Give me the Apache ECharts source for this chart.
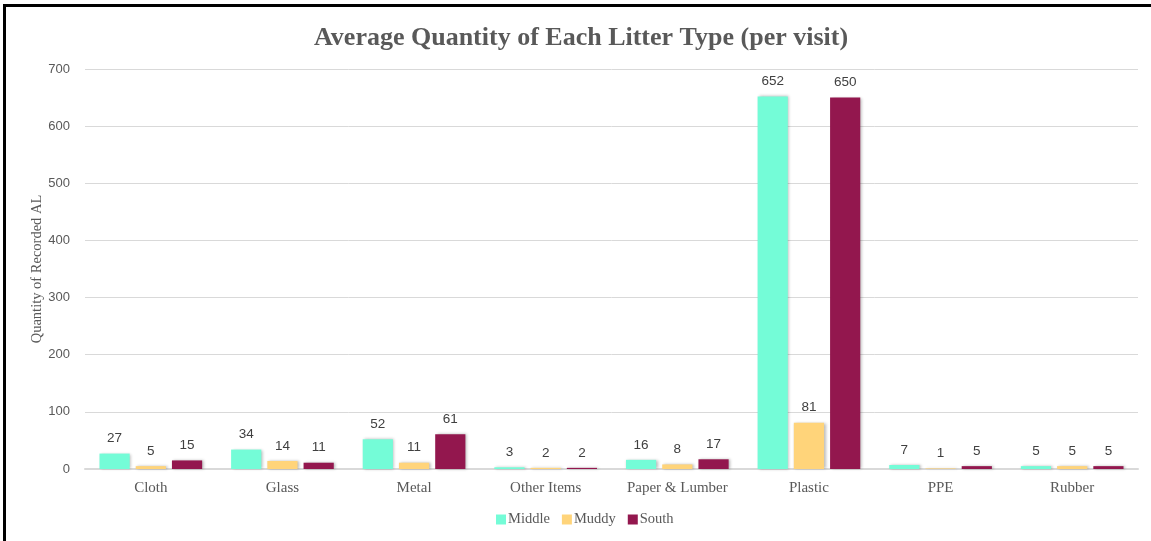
<!DOCTYPE html>
<html>
<head>
<meta charset="utf-8">
<script src="https://cdn.jsdelivr.net/npm/echarts@6/dist/echarts.min.js"></script>
<style>
  html, body { margin: 0; padding: 0; background: #fff; }
  #frame { position: absolute; left: 3px; top: 4px; width: 1160px; height: 560px;
           border-left: 3px solid #000; border-top: 3px solid #000; box-sizing: border-box; }
  #chart { position: absolute; left: 0; top: 0; width: 1151px; height: 541px; }
</style>
</head>
<body>
<div id="chart"></div>
<div id="frame"></div>
<script>
// Litter categories and per-site averages (items per visit)
const categories = ['Cloth', 'Glass', 'Metal', 'Other Items', 'Paper & Lumber', 'Plastic', 'PPE', 'Rubber'];
const middle = [27, 34, 52, 3, 16, 652, 7, 5];
const muddy = [5, 14, 11, 2, 8, 81, 1, 5];
const south = [15, 11, 61, 2, 17, 650, 5, 5];
const yTicks = { min: 0, max: 700, interval: 100 };

const serif = '"Liberation Serif", "DejaVu Serif", serif';
const sans = '"Liberation Sans", Arial, sans-serif';

function barSeries(name, data, color) {
  return {
    name: name,
    type: 'bar',
    data: data,
    barGap: '20%',
    barCategoryGap: '22%',
    itemStyle: {
      color: color,
      shadowColor: 'rgba(0,0,0,0.28)',
      shadowBlur: 3,
      shadowOffsetX: 1.5,
      shadowOffsetY: 0
    },
    label: {
      show: true,
      position: 'top',
      distance: 8,
      color: '#404040',
      fontFamily: sans,
      fontSize: 13.5
    }
  };
}

const chart = echarts.init(document.getElementById('chart'));
chart.setOption({
  backgroundColor: '#fff',
  animation: false,
  title: {
    text: 'Average Quantity of Each Litter Type (per visit)',
    left: 314,
    top: 25,
    padding: 0,
    textStyle: { fontFamily: serif, fontSize: 26, fontWeight: 'bold', color: '#595959' }
  },
  legend: {
    bottom: 14,
    left: 496,
    padding: 0,
    itemWidth: 10,
    itemHeight: 10,
    itemGap: 12,
    icon: 'rect',
    textStyle: { fontFamily: serif, fontSize: 14.5, color: '#595959', padding: [0, 0, 0, -3] },
    data: ['Middle', 'Muddy', 'South']
  },
  grid: { left: 85, right: 13, top: 69, bottom: 72 },
  xAxis: {
    type: 'category',
    data: categories,
    axisLine: { lineStyle: { color: '#d9d9d9', width: 2 } },
    axisTick: { show: false },
    axisLabel: { fontFamily: serif, fontSize: 15, color: '#595959', margin: 12 }
  },
  yAxis: {
    type: 'value',
    min: yTicks.min,
    max: yTicks.max,
    interval: yTicks.interval,
    name: 'Quantity of Recorded AL',
    nameLocation: 'middle',
    nameGap: 40,
    nameMoveOverlap: false,
    nameTextStyle: { fontFamily: serif, fontSize: 14.5, color: '#595959' },
    axisLine: { show: false },
    axisTick: { show: false },
    axisLabel: { fontFamily: sans, fontSize: 13, color: '#595959', margin: 15 },
    splitLine: { lineStyle: { color: '#d9d9d9', width: 1 } }
  },
  series: [
    barSeries('Middle', middle, '#74fcd7'),
    barSeries('Muddy', muddy, '#ffd47a'),
    barSeries('South', south, '#93174e')
  ]
});
</script>
</body>
</html>
